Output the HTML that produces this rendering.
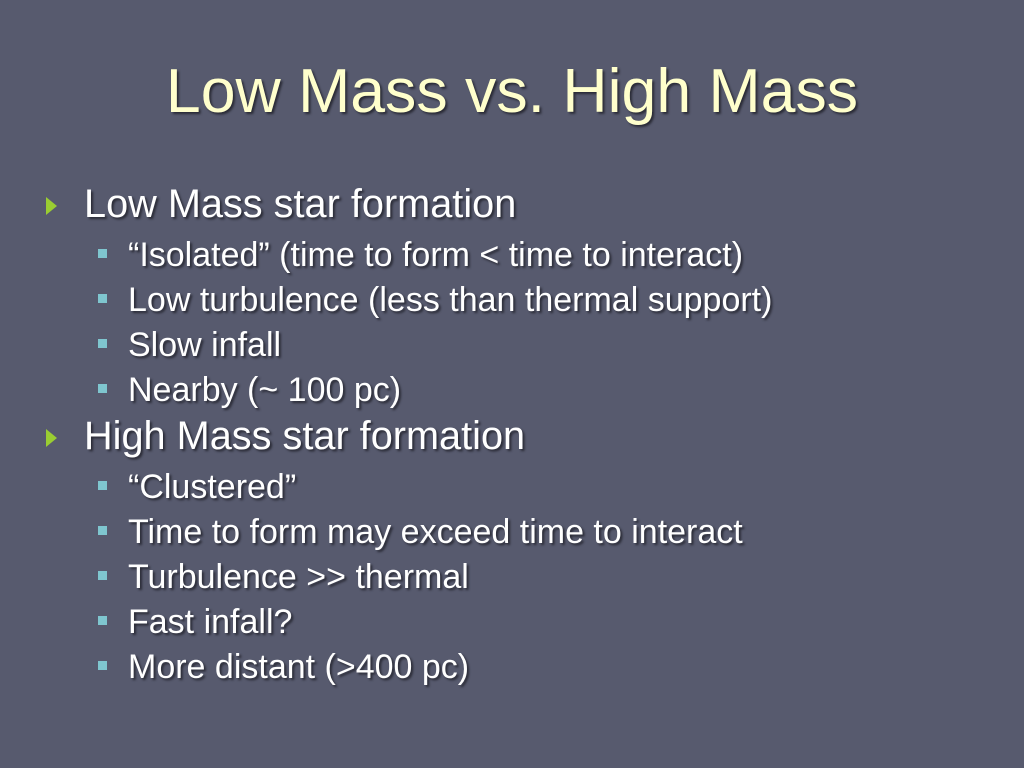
<!DOCTYPE html>
<html><head><meta charset="utf-8"><style>
html,body{margin:0;padding:0}
body{width:1024px;height:768px;background:#575a6e;position:relative;overflow:hidden;font-family:"Liberation Sans",Arial,sans-serif;color:#fff}
.t{position:absolute;left:0;width:1024px;top:55px;text-align:center;font-size:62.6px;color:#ffffcc;text-shadow:2px 2px 2px #2a2b36;white-space:nowrap}
.l1,.l2{position:absolute;white-space:nowrap;text-shadow:2px 2px 2px #2a2b36}
.l1{left:84px;font-size:39.7px}
.l2{left:128px;font-size:34px}
.tri{position:absolute;left:46px;width:0;height:0;border-left:11px solid #9acd32;border-top:9px solid transparent;border-bottom:9px solid transparent}
.sq{position:absolute;left:98px;width:9px;height:9px;background:#7fc6cf}
</style></head><body>
<div class="t">Low Mass vs. High Mass</div>

<div class="tri" style="top:197px"></div>
<div class="l1" style="top:182px">Low Mass star formation</div>
<div class="sq" style="top:249px"></div>
<div class="l2" style="top:236px">“Isolated” (time to form &lt; time to interact)</div>
<div class="sq" style="top:294px"></div>
<div class="l2" style="top:281px">Low turbulence (less than thermal support)</div>
<div class="sq" style="top:339px"></div>
<div class="l2" style="top:326px">Slow infall</div>
<div class="sq" style="top:384px"></div>
<div class="l2" style="top:371px">Nearby (~ 100 pc)</div>

<div class="tri" style="top:429px"></div>
<div class="l1" style="top:414px">High Mass star formation</div>
<div class="sq" style="top:481px"></div>
<div class="l2" style="top:468px">“Clustered”</div>
<div class="sq" style="top:526px"></div>
<div class="l2" style="top:513px">Time to form may exceed time to interact</div>
<div class="sq" style="top:571px"></div>
<div class="l2" style="top:558px">Turbulence &gt;&gt; thermal</div>
<div class="sq" style="top:616px"></div>
<div class="l2" style="top:603px">Fast infall?</div>
<div class="sq" style="top:661px"></div>
<div class="l2" style="top:648px">More distant (&gt;400 pc)</div>
</body></html>
